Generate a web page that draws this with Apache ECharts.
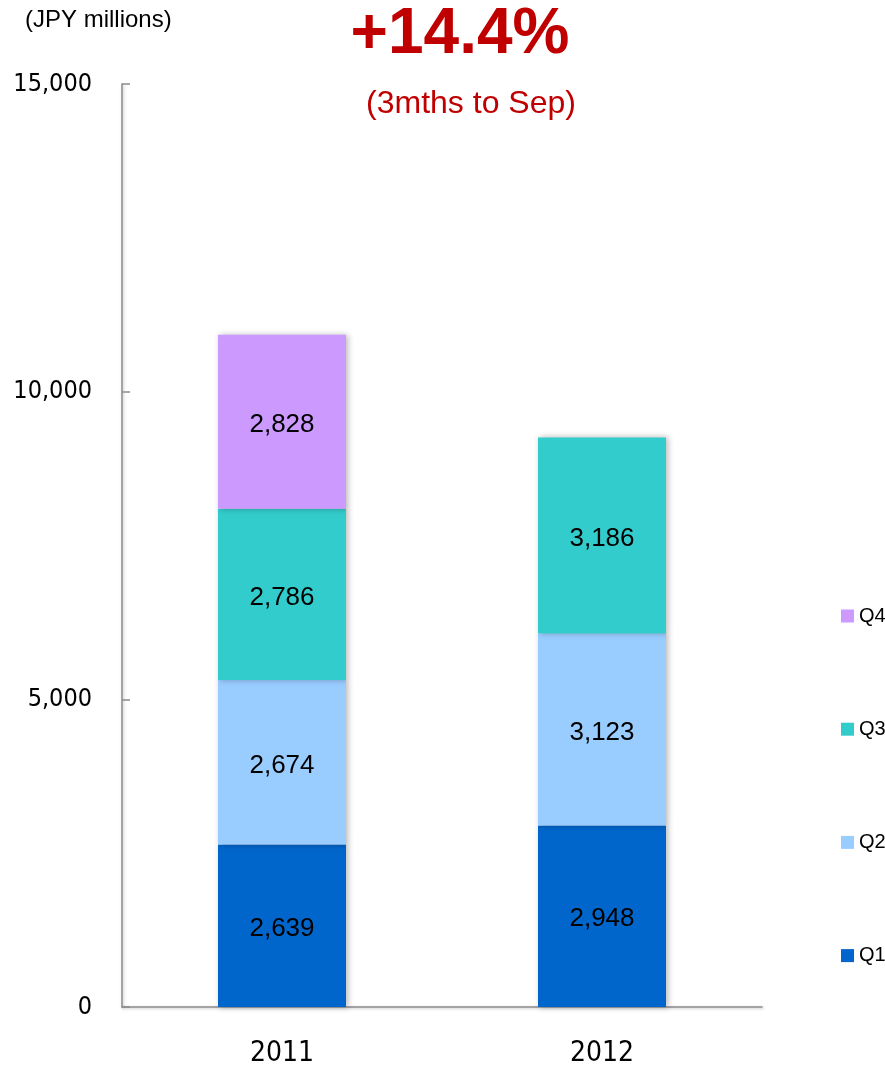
<!DOCTYPE html>
<html>
<head>
<meta charset="utf-8">
<script src="https://cdn.jsdelivr.net/npm/echarts@6/dist/echarts.min.js"></script>
<style>html,body{margin:0;padding:0;background:#fff;}#c{width:885px;height:1068px;}</style>
</head>
<body>
<div id="c"></div>
<script>
const categories = ['2011', '2012'];
const q1 = [2639, 2948];
const q2 = [2674, 3123];
const q3 = [2786, 3186];
const q4 = [2828, null];
const seriesNames = ['Q1', 'Q2', 'Q3', 'Q4'];
const seriesColors = ['#0066CC', '#99CCFF', '#33CCCC', '#CC99FF'];
const yMin = 0, yMax = 15000, yStep = 5000;
const unitLabel = '(JPY millions)';
const headline = '+14.4%';
const subHeadline = '(3mths to Sep)';

const fmt = v => Number(v).toLocaleString('en-US');
const values = [q1, q2, q3, q4];

const chart = echarts.init(document.getElementById('c'), null, {renderer: 'canvas'});
chart.setOption({
  animation: false,
  backgroundColor: '#fff',
  grid: {left: 122, right: 123, top: 84, bottom: 59, containLabel: false},
  legend: {
    orient: 'vertical',
    left: 836, top: 601,
    itemWidth: 13, itemHeight: 13, itemGap: 93.2,
    icon: 'rect',
    data: ['Q4', 'Q3', 'Q2', 'Q1'],
    textStyle: {fontFamily: 'Liberation Sans', fontSize: 20, color: '#000'}
  },
  xAxis: {
    type: 'category', data: categories,
    axisLine: {lineStyle: {color: '#8c8c8c', width: 1.5, shadowColor: 'rgba(0,0,0,0.25)', shadowBlur: 3, shadowOffsetX: 1, shadowOffsetY: 1}},
    axisTick: {inside: true, length: 9, lineStyle: {color: '#8c8c8c', width: 1.5}},
    axisLabel: {fontFamily: 'DejaVu Sans Condensed, DejaVu Sans', fontSize: 28, color: '#000', margin: 33}
  },
  yAxis: {
    type: 'value', min: yMin, max: yMax, interval: yStep,
    splitLine: {show: false},
    axisLine: {show: true, lineStyle: {color: '#8c8c8c', width: 1.5, shadowColor: 'rgba(0,0,0,0.25)', shadowBlur: 3, shadowOffsetX: 1, shadowOffsetY: 1}},
    axisTick: {show: true, inside: true, length: 8, lineStyle: {color: '#8c8c8c', width: 1.5}},
    axisLabel: {fontFamily: 'DejaVu Sans Condensed, DejaVu Sans', fontSize: 25, color: '#000', margin: 30, formatter: fmt}
  },
  series: seriesNames.map((name, i) => ({
    name: name, type: 'bar', stack: 'total', barWidth: 128,
    data: values[i],
    itemStyle: {color: seriesColors[i], shadowColor: 'rgba(0,0,0,0.28)', shadowBlur: 6, shadowOffsetX: 2, shadowOffsetY: 0},
    label: {show: true, position: 'inside', offset: [0, 3], fontFamily: 'Liberation Sans', fontSize: 26, color: '#000',
      formatter: p => p.value == null ? '' : fmt(p.value)}
  })),
  graphic: [
    {type: 'text', left: 25, top: 8, style: {text: unitLabel, font: '24px "Liberation Sans"', fill: '#000'}},
    {type: 'text', x: 460, y: 35, style: {text: headline, font: 'bold 64px "Liberation Sans"', fill: '#C00000', textAlign: 'center', textVerticalAlign: 'middle'}},
    {type: 'text', x: 471, y: 104, style: {text: subHeadline, font: '32px "Liberation Sans"', fill: '#C00000', textAlign: 'center', textVerticalAlign: 'middle'}}
  ]
});
</script>
</body>
</html>
